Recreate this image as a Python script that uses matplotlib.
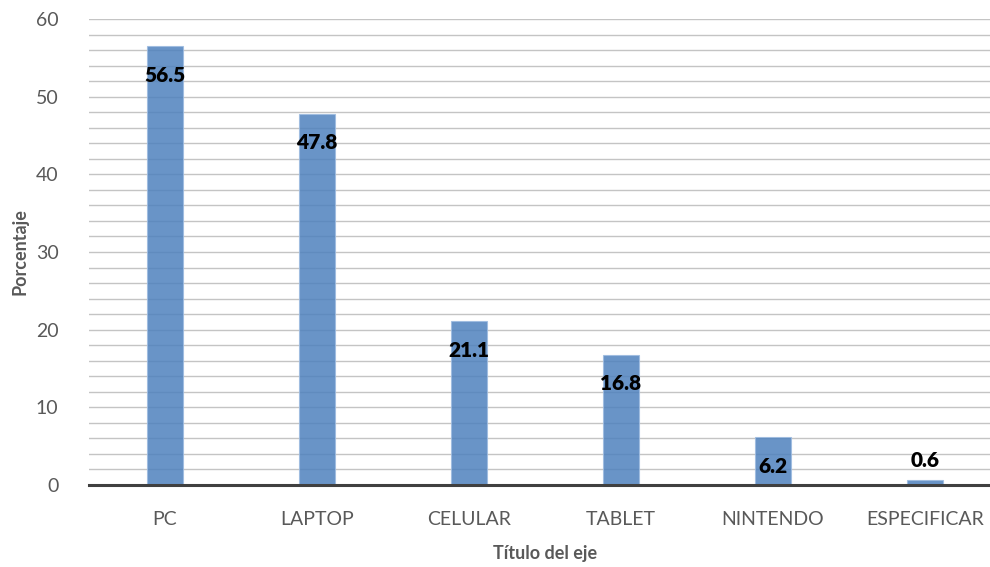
import matplotlib
matplotlib.use("Agg")
import matplotlib.pyplot as plt
from matplotlib.ticker import MultipleLocator

categories = ["PC", "LAPTOP", "CELULAR", "TABLET", "NINTENDO", "ESPECIFICAR"]
values = [56.5, 47.8, 21.1, 16.8, 6.2, 0.6]
y_ticks = [0, 10, 20, 30, 40, 50, 60]

plt.rcParams['font.family'] = ['Lato', 'DejaVu Sans']

fig = plt.figure(figsize=(9.9, 5.67), dpi=100)
ax = fig.add_axes([89/990, 82/567, 912/990, 466/567])

x = list(range(len(categories)))
ax.bar(x, values, width=0.24, color='#4f81bd', alpha=0.85,
       edgecolor='#9dbbe0', linewidth=0.8, zorder=3)

ax.set_xlim(-0.5, len(categories) - 0.5)
ax.set_ylim(0, 60)
ax.set_yticks(y_ticks)
ax.yaxis.set_minor_locator(MultipleLocator(2))
ax.grid(axis='y', which='both', color='#c4c4c4', linewidth=1.0, zorder=0)
ax.set_axisbelow(True)

for s in ['top', 'right', 'left']:
    ax.spines[s].set_visible(False)
ax.spines['bottom'].set_color('#404040')
ax.spines['bottom'].set_linewidth(2.2)
ax.spines['bottom'].set_zorder(4)

ax.set_xticks(x)
ax.set_xticklabels(categories)
ax.tick_params(axis='both', which='both', length=0, labelsize=14, labelcolor='#595959')
ax.tick_params(axis='y', pad=22)
ax.tick_params(axis='x', pad=19)

for xi, v in zip(x, values):
    if v < 3:
        off = 14
    else:
        off = -21
    ax.annotate(f"{v}", (xi, v), xytext=(0, off), textcoords='offset points',
                ha='center', va='center', fontsize=15, fontweight='heavy',
                color='black', zorder=5)

ax.set_ylabel("Porcentaje", fontsize=13, fontweight='bold', color='#595959', labelpad=5)
ax.set_xlabel("Título del eje", fontsize=13, fontweight='bold', color='#595959', labelpad=12)

fig.savefig("out.png", dpi=100)
